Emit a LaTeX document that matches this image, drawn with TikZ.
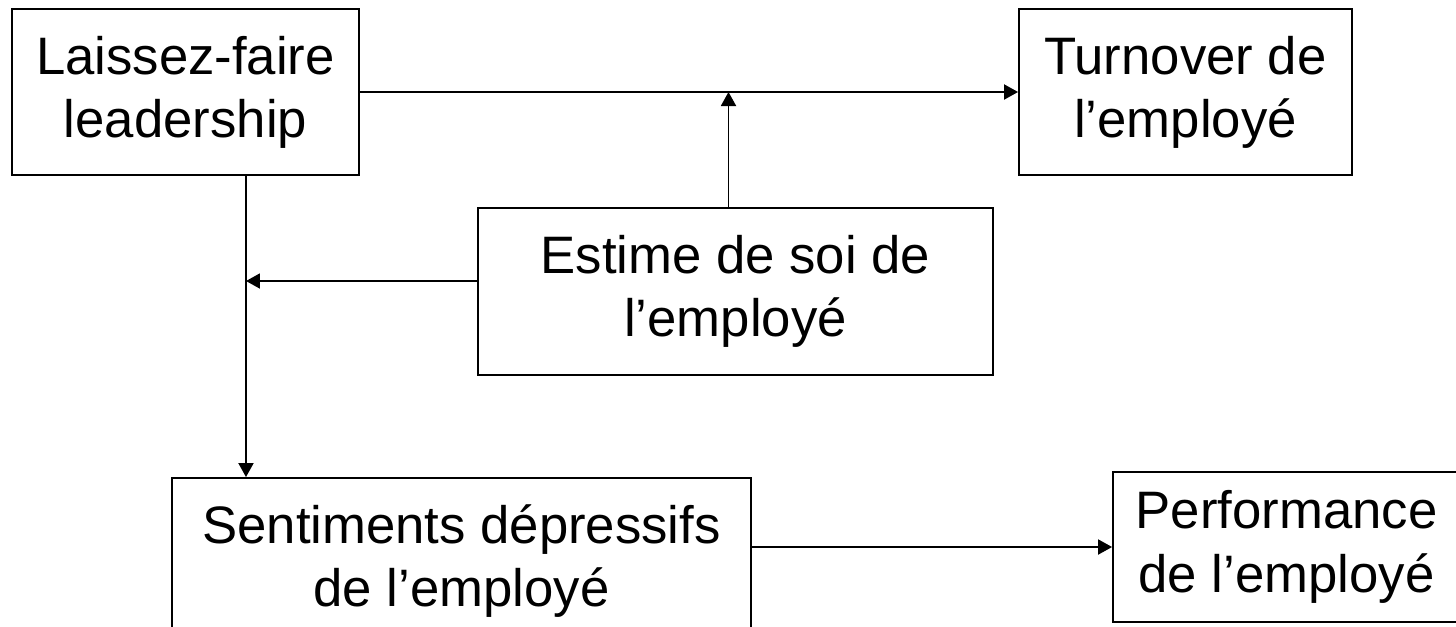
\documentclass[tikz,border=0pt]{standalone}
\usepackage{fontspec}
\setmainfont{Liberation Sans}
\usetikzlibrary{arrows.meta}

\tikzset{
  box/.style={draw, line width=1.1pt, align=center, inner sep=0pt,
    font=\fontsize{30}{36}\selectfont},
  link/.style={line width=1.1pt, -{Triangle[length=0.28cm,width=0.3cm]}}
}

\begin{document}
\begin{tikzpicture}[x=0.02cm, y=-0.02cm]
\useasboundingbox (0,0) rectangle (1456,626);
\clip (0,0) rectangle (1456,626);

\node[box, minimum width=6.94cm, minimum height=3.32cm] (lf) at (185.5,92) {Laissez-faire\\leadership};
\node[box, minimum width=6.66cm, minimum height=3.32cm] (to) at (1185.5,92) {Turnover de\\l’employé};
\node[box, minimum width=10.3cm, minimum height=3.34cm] (es) at (735.5,291.5) {Estime de soi de\\l’employé};
\node[box, minimum width=11.58cm, minimum height=3.32cm] (sd) at (461.5,561) {Sentiments dépressifs\\de l’employé};
\node[box, minimum width=6.94cm, minimum height=3.0cm] (pe) at (1286.5,547) {Performance\\de l’employé};

\coordinate (lv) at ([xshift=1.21cm]lf.south);

\draw[link] (lf.east) -- (to.west);
\draw[link] ([xshift=-0.14cm]es.north) -- ([xshift=-0.14cm]es.north |- lf.east);
\draw[link] (lv) -- (lv |- sd.north);
\draw[link] ([yshift=0.21cm]es.west) -- ([yshift=0.21cm]es.west -| lv);
\draw[link] (sd.east |- pe.west) -- (pe.west);
\end{tikzpicture}
\end{document}
